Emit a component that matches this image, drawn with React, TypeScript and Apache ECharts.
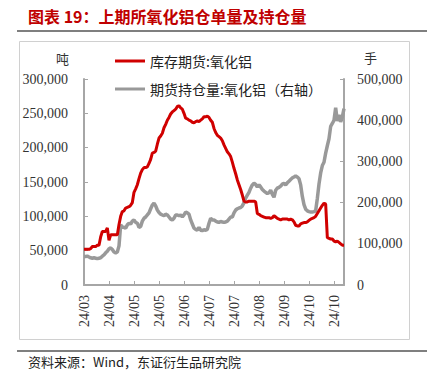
import React, { useEffect, useRef } from "react";
import * as echarts from "echarts";

const tickLabels = ["24/03", "24/04", "24/05", "24/05", "24/06", "24/07", "24/07", "24/08", "24/09", "24/10", "24/10"];
const labelStep = 15;

const inventory = [
  52000, 52000, 52000, 52000, 53000, 56000, 56000, 56000, 58000, 58000,
  70000, 78000, 78000, 78000, 83000, 65000, 73000, 73000, 73000, 73000,
  73000, 88000, 100000, 107000, 108000, 112000, 113000, 114000, 116000, 120000,
  135000, 140000, 146000, 155000, 163000, 168000, 171000, 171000, 172000, 177000,
  183000, 192000, 193000, 195000, 205000, 214000, 217000, 221000, 229000, 234000,
  240000, 244000, 249000, 252000, 254000, 256000, 260000, 261000, 258000, 256000,
  250000, 243000, 242000, 240000, 239000, 237000, 236000, 238000, 239000, 238000,
  240000, 242000, 245000, 245000, 246000, 244000, 240000, 237000, 228000, 222000,
  218000, 216000, 214000, 210000, 204000, 199000, 194000, 191000, 187000, 179000,
  170000, 162000, 153000, 146000, 139000, 131000, 122000, 121000, 121000, 122000,
  122000, 122000, 122000, 121000, 104000, 103000, 101000, 100000, 99000, 98000,
  98000, 98000, 97000, 98000, 101000, 99000, 97000, 96000, 95000, 96000,
  96000, 96000, 96000, 95000, 96000, 95000, 92000, 87000, 86000, 86000,
  89000, 90000, 91000, 91000, 92000, 94000, 96000, 97000, 98000, 100000,
  104000, 108000, 112000, 116000, 119000, 118000, 69000, 68000, 67000, 67000,
  64000, 63000, 64000, 62000, 60000, 58000, 58000,
];

const openInterest = [
  69000, 69000, 70000, 68000, 66000, 65000, 66000, 65000, 64000, 65000,
  66000, 70000, 73000, 78000, 82000, 88000, 90000, 86000, 80000, 78000,
  80000, 95000, 146000, 140000, 140000, 138000, 146000, 150000, 148000, 155000,
  158000, 152000, 150000, 140000, 142000, 155000, 162000, 165000, 170000, 175000,
  185000, 194000, 199000, 192000, 182000, 176000, 172000, 170000, 168000, 172000,
  170000, 165000, 160000, 158000, 162000, 170000, 170000, 168000, 170000, 165000,
  170000, 177000, 175000, 172000, 158000, 148000, 138000, 135000, 133000, 140000,
  133000, 132000, 134000, 133000, 135000, 150000, 162000, 158000, 158000, 155000,
  153000, 152000, 154000, 153000, 152000, 153000, 155000, 160000, 165000, 165000,
  175000, 182000, 185000, 187000, 188000, 192000, 200000, 211000, 218000, 225000,
  235000, 243000, 247000, 244000, 238000, 243000, 238000, 232000, 228000, 225000,
  222000, 224000, 230000, 220000, 213000, 230000, 235000, 237000, 240000, 245000,
  247000, 243000, 248000, 252000, 256000, 260000, 262000, 265000, 262000, 258000,
  243000, 215000, 195000, 184000, 180000, 178000, 177000, 177000, 178000, 180000,
  210000, 245000, 272000, 290000, 298000, 320000, 338000, 355000, 385000, 392000,
  400000, 430000, 398000, 413000, 396000, 408000, 428000,
];

const seriesNames = ["库存期货:氧化铝", "期货持仓量:氧化铝（右轴）"];

const SERIF = "'Liberation Serif', 'Noto Sans CJK SC', serif";
const CJK = "'Noto Sans CJK SC', sans-serif";

export default function App() {
  const ref = useRef<HTMLDivElement>(null);
  useEffect(() => {
    if (!ref.current) return;
    const chart = echarts.init(ref.current, null, { renderer: "svg" });
    const xData = inventory.map((_, i) => String(i));
    const axisColor = "#A6A6A6";
    chart.setOption({
      animation: false,
      backgroundColor: "#fff",
      grid: { left: 84, right: 83, top: 79, bottom: 96, containLabel: false },
      legend: [
        {
          data: [seriesNames[0]], left: 110, top: 49, icon: "rect", itemWidth: 30, itemHeight: 3,
          textStyle: { fontFamily: CJK, fontSize: 14, color: "#222" },
        },
        {
          data: [seriesNames[1]], left: 110, top: 77, icon: "rect", itemWidth: 30, itemHeight: 3,
          textStyle: { fontFamily: CJK, fontSize: 14, color: "#222" },
        },
      ],
      xAxis: {
        type: "category",
        data: xData,
        boundaryGap: false,
        axisLine: { lineStyle: { color: axisColor, width: 2 } },
        axisTick: { inside: true, length: 4, interval: labelStep - 1, lineStyle: { color: axisColor } },
        axisLabel: {
          interval: labelStep - 1,
          rotate: 90,
          margin: 10,
          fontFamily: SERIF,
          fontSize: 14,
          color: "#333",
          formatter: (_v: string, i: number) => tickLabels[Math.round(i / labelStep)] ?? "",
        },
      },
      yAxis: [
        {
          type: "value", min: 0, max: 300000, interval: 50000,
          splitLine: { show: false },
          axisLine: { show: true, lineStyle: { color: axisColor, width: 2 } },
          axisTick: { show: true, inside: true, length: 4, lineStyle: { color: axisColor } },
          axisLabel: {
            margin: 16, fontFamily: SERIF, fontSize: 14, color: "#333",
            formatter: (v: number) => v.toLocaleString("en-US"),
          },
        },
        {
          type: "value", min: 0, max: 500000, interval: 100000,
          splitLine: { show: false },
          axisLine: { show: true, lineStyle: { color: axisColor, width: 2 } },
          axisTick: { show: true, inside: true, length: 4, lineStyle: { color: axisColor } },
          axisLabel: {
            margin: 13, fontFamily: SERIF, fontSize: 14, color: "#333",
            formatter: (v: number) => v.toLocaleString("en-US"),
          },
        },
      ],
      series: [
        {
          name: seriesNames[1], type: "line", yAxisIndex: 1, data: openInterest,
          showSymbol: false, symbol: "none", z: 2,
          lineStyle: { color: "#999999", width: 3.5 }, itemStyle: { color: "#999999" },
        },
        {
          name: seriesNames[0], type: "line", yAxisIndex: 0, data: inventory,
          showSymbol: false, symbol: "none", z: 3,
          lineStyle: { color: "#D00000", width: 3 }, itemStyle: { color: "#D00000" },
        },
      ],
      graphic: [
        {
          type: "text", left: 28, top: 8,
          style: { text: "图表 19：上期所氧化铝仓单量及持仓量", fill: "#C00000", font: `bold 16px ${CJK}` },
        },
        { type: "line", shape: { x1: 17, y1: 31, x2: 427, y2: 31 }, style: { stroke: "#7F7F7F", lineWidth: 2 } },
        { type: "rect", shape: { x: 19.5, y: 41.5, width: 390, height: 298 }, style: { fill: "none", stroke: "#D0D0D0", lineWidth: 1 } },
        { type: "line", shape: { x1: 17, y1: 351, x2: 427, y2: 351 }, style: { stroke: "#7F7F7F", lineWidth: 2 } },
        {
          type: "text", left: 28, top: 355,
          style: { text: "资料来源：Wind，东证衍生品研究院", fill: "#222", font: `13px ${CJK}` },
        },
        { type: "text", left: 56, top: 52, style: { text: "吨", fill: "#333", font: `13px ${CJK}` } },
        { type: "text", left: 364, top: 51, style: { text: "手", fill: "#333", font: `13px ${CJK}` } },
      ],
    });
    return () => chart.dispose();
  }, []);
  return <div ref={ref} style={{ position: "fixed", left: 0, top: 0, width: 427, height: 381 }} />;
}
